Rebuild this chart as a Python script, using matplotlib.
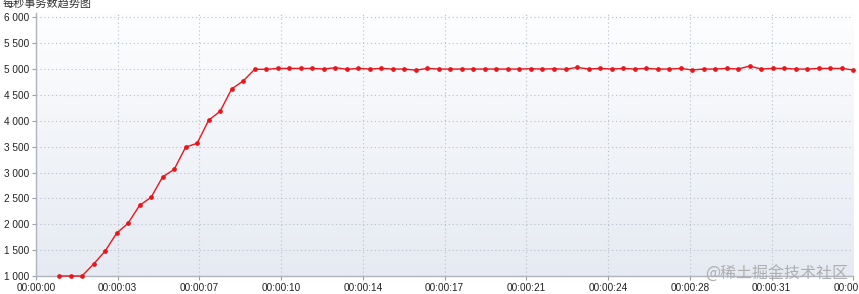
import numpy as np
import matplotlib
matplotlib.use("Agg")
import matplotlib.pyplot as plt
from matplotlib.ticker import FuncFormatter, FixedLocator

# ---- data ----
times = [1.0, 1.5, 2.0, 2.5, 3.0, 3.5, 4.0, 4.5, 5.0, 5.5,
         6.0, 6.5, 7.0, 7.5, 8.0, 8.5, 9.0, 9.5, 10.0, 10.5,
         11.0, 11.5, 12.0, 12.5, 13.0, 13.5, 14.0, 14.5, 15.0, 15.5,
         16.0, 16.5, 17.0, 17.5, 18.0, 18.5, 19.0, 19.5, 20.0, 20.5,
         21.0, 21.5, 22.0, 22.5, 23.0, 23.5, 24.0, 24.5, 25.0, 25.5,
         26.0, 26.5, 27.0, 27.5, 28.0, 28.5, 29.0, 29.5, 30.0, 30.5,
         31.0, 31.5, 32.0, 32.5, 33.0, 33.5, 34.0, 34.5, 35.0, 35.5]
tps = [1000, 1000, 1000, 1230, 1480, 1825, 2020, 2365, 2520, 2915,
       3060, 3490, 3565, 4010, 4185, 4615, 4770, 4995, 4995, 5012,
       5012, 5012, 5012, 5000, 5027, 4995, 5012, 5000, 5012, 5000,
       5000, 4978, 5012, 5000, 5000, 5000, 5000, 5000, 5000, 5000,
       5000, 5006, 5000, 5006, 4995, 5032, 5000, 5012, 5000, 5012,
       5000, 5012, 5000, 5000, 5012, 4982, 5000, 5000, 5012, 5000,
       5058, 5000, 5012, 5012, 5000, 5000, 5012, 5012, 5012, 4982]
x_tick_labels = ["00:00:00", "00:00:03", "00:00:07", "00:00:10", "00:00:14",
                 "00:00:17", "00:00:21", "00:00:24", "00:00:28", "00:00:31",
                 "00:00:35"]
y_ticks = [1000, 1500, 2000, 2500, 3000, 3500, 4000, 4500, 5000, 5500, 6000]
title = "每秒事务数趋势图"
watermark = "@稀土掘金技术社区"

# ---- figure ----
W, H = 859, 294
fig = plt.figure(figsize=(W / 100, H / 100), dpi=100)
fig.patch.set_facecolor("white")
ax = fig.add_axes([36 / W, 1 - 276 / H, (853.3 - 36) / W, (276 - 13) / H])

x_max = 35.5
ax.set_xlim(0, x_max)
ax.set_ylim(1000, 6083)

# gradient background
grad = np.linspace(0, 1, 256).reshape(-1, 1)
top_c = np.array([0xfd, 0xfe, 0xff]) / 255
bot_c = np.array([0xe6, 0xea, 0xf2]) / 255
img = top_c[None, None, :] * (1 - grad[:, :, None]) + bot_c[None, None, :] * grad[:, :, None]
ax.imshow(img, extent=[0, 1, 0, 1], transform=ax.transAxes, aspect="auto",
          zorder=0, interpolation="bilinear")

ax.plot(times, tps, color="#e8161b", lw=1.0, marker="o", ms=2.4,
        mfc="#e8161b", mec="#e8161b", zorder=3, clip_on=False)

xt = np.linspace(0, x_max, len(x_tick_labels))
ax.xaxis.set_major_locator(FixedLocator(xt))
ax.set_xticklabels(x_tick_labels)
ax.yaxis.set_major_locator(FixedLocator(y_ticks))
ax.yaxis.set_major_formatter(FuncFormatter(lambda v, p: f"{int(v):,}".replace(",", " ")))

ax.grid(True, color="#b8c0cc", lw=0.8, linestyle=(0, (1, 2.5)), zorder=1)
ax.set_axisbelow(True)

for s in ["top", "right"]:
    ax.spines[s].set_visible(False)
for s in ["left", "bottom"]:
    ax.spines[s].set_color("#b0b4bc")
    ax.spines[s].set_linewidth(1.0)

ax.tick_params(axis="both", colors="#9aa0a8", length=3, width=0.8,
               labelcolor="#222222", labelsize=7.2)
ax.tick_params(axis="y", pad=2)
ax.tick_params(axis="x", pad=2)
for lab in ax.get_xticklabels() + ax.get_yticklabels():
    lab.set_fontfamily(["Liberation Sans", "DejaVu Sans"])

fig.text(3 / W, 1 - 7 / H, title, fontsize=8, color="#333333",
         family=["Noto Sans CJK SC", "DejaVu Sans"], ha="left", va="baseline")

fig.text(848 / W, 1 - 279 / H, watermark, fontsize=11.5, color="#a8a8a8",
         family=["Noto Sans CJK SC", "DejaVu Sans"], ha="right", va="baseline",
         alpha=0.9, zorder=10)

fig.savefig("out.png", dpi=100)
